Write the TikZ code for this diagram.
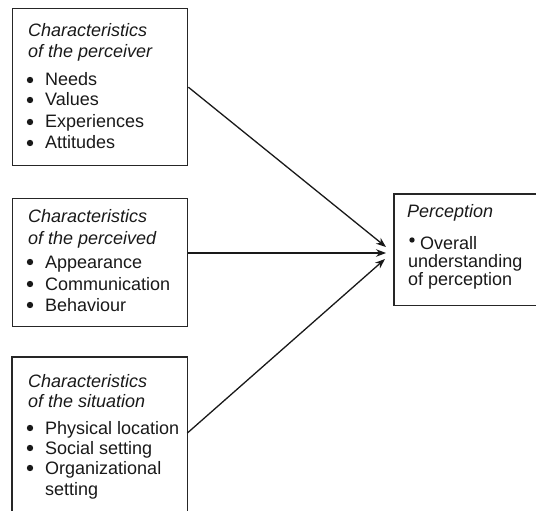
\documentclass[tikz,border=0pt]{standalone}
\usepackage{fontspec}
\setmainfont{Liberation Sans}
\usetikzlibrary{arrows.meta,calc}

% bullet point followed by its text, placed on a baseline
\newcommand\listentry[4]{%
  \fill[black!90] (#2-15,#3-6) circle (3.2);
  \node[txt] (#1) at (#2,#3) {#4};}

\begin{document}
\begin{tikzpicture}[x=1pt,y=-1pt,
  frame/.style={draw=black!85, line width=1.4pt},
  box/.style={frame, anchor=north west, inner sep=0pt},
  area/.style={anchor=north west, inner sep=0pt},
  txt/.style={anchor=base west, inner sep=0pt, text=black!90,
              font=\fontsize{18}{21}\selectfont},
  head/.style={txt, font=\fontsize{18}{21}\selectfont\itshape},
  link/.style={line width=1.3pt, draw=black!90,
               -{Stealth[length=10pt,width=7.5pt]}}]
\useasboundingbox (0,0) rectangle (536,511);

% the frames; the last two are open where they meet the page edge
\node[box, minimum width=175, minimum height=157] (b1) at (12,8) {};
\node[box, minimum width=175, minimum height=128] (b2) at (12,198) {};
\node[area, minimum width=175, minimum height=154] (b3) at (12,357) {};
\node[area, minimum width=142, minimum height=111] (p)  at (394,194) {};
\draw[frame] (b3.south west) -- (b3.north west) -- (b3.north east) -- (b3.south east);
\draw[frame] (p.north east) -- (p.north west) -- (p.south west) -- (p.south east);

% characteristics of the perceiver
\node[head] (h1a) at (28,37) {Characteristics};
\node[head] (h1b) at (28,58) {of the perceiver};
\listentry{i11}{45}{86}{Needs}
\listentry{i12}{45}{106}{Values}
\listentry{i13}{45}{128}{Experiences}
\listentry{i14}{45}{149}{Attitudes}

% characteristics of the perceived
\node[head] (h2a) at (28,222) {Characteristics};
\node[head] (h2b) at (28,244) {of the perceived};
\listentry{i21}{45}{268}{Appearance}
\listentry{i22}{45}{290}{Communication}
\listentry{i23}{45}{311}{Behaviour}

% characteristics of the situation
\node[head] (h3a) at (28,387) {Characteristics};
\node[head] (h3b) at (28,407) {of the situation};
\listentry{i31}{45}{434}{Physical location}
\listentry{i32}{45}{454}{Social setting}
\listentry{i33}{45}{474}{Organizational}
\node[txt] (i34) at (45,495) {setting};

% perception
\node[head] (ph) at (407,217) {Perception};
\fill[black!90] (412,240) circle (2.7);
\node[txt] (pa) at (420,249) {Overall};
\node[txt] (pb) at (408,267) {understanding};
\node[txt] (pc) at (408,285) {of perception};

% arrow tips in front of the perception frame
\coordinate (t1) at (386,247);
\coordinate (t2) at (386,253);
\coordinate (t3) at (385,259);

\draw[link] (b1.east) -- (t1);
\draw[link] (b2.east |- t2) -- (t2);
\draw[link] ($(b3.north east)+(0,76)$) -- (t3);
\end{tikzpicture}
\end{document}
